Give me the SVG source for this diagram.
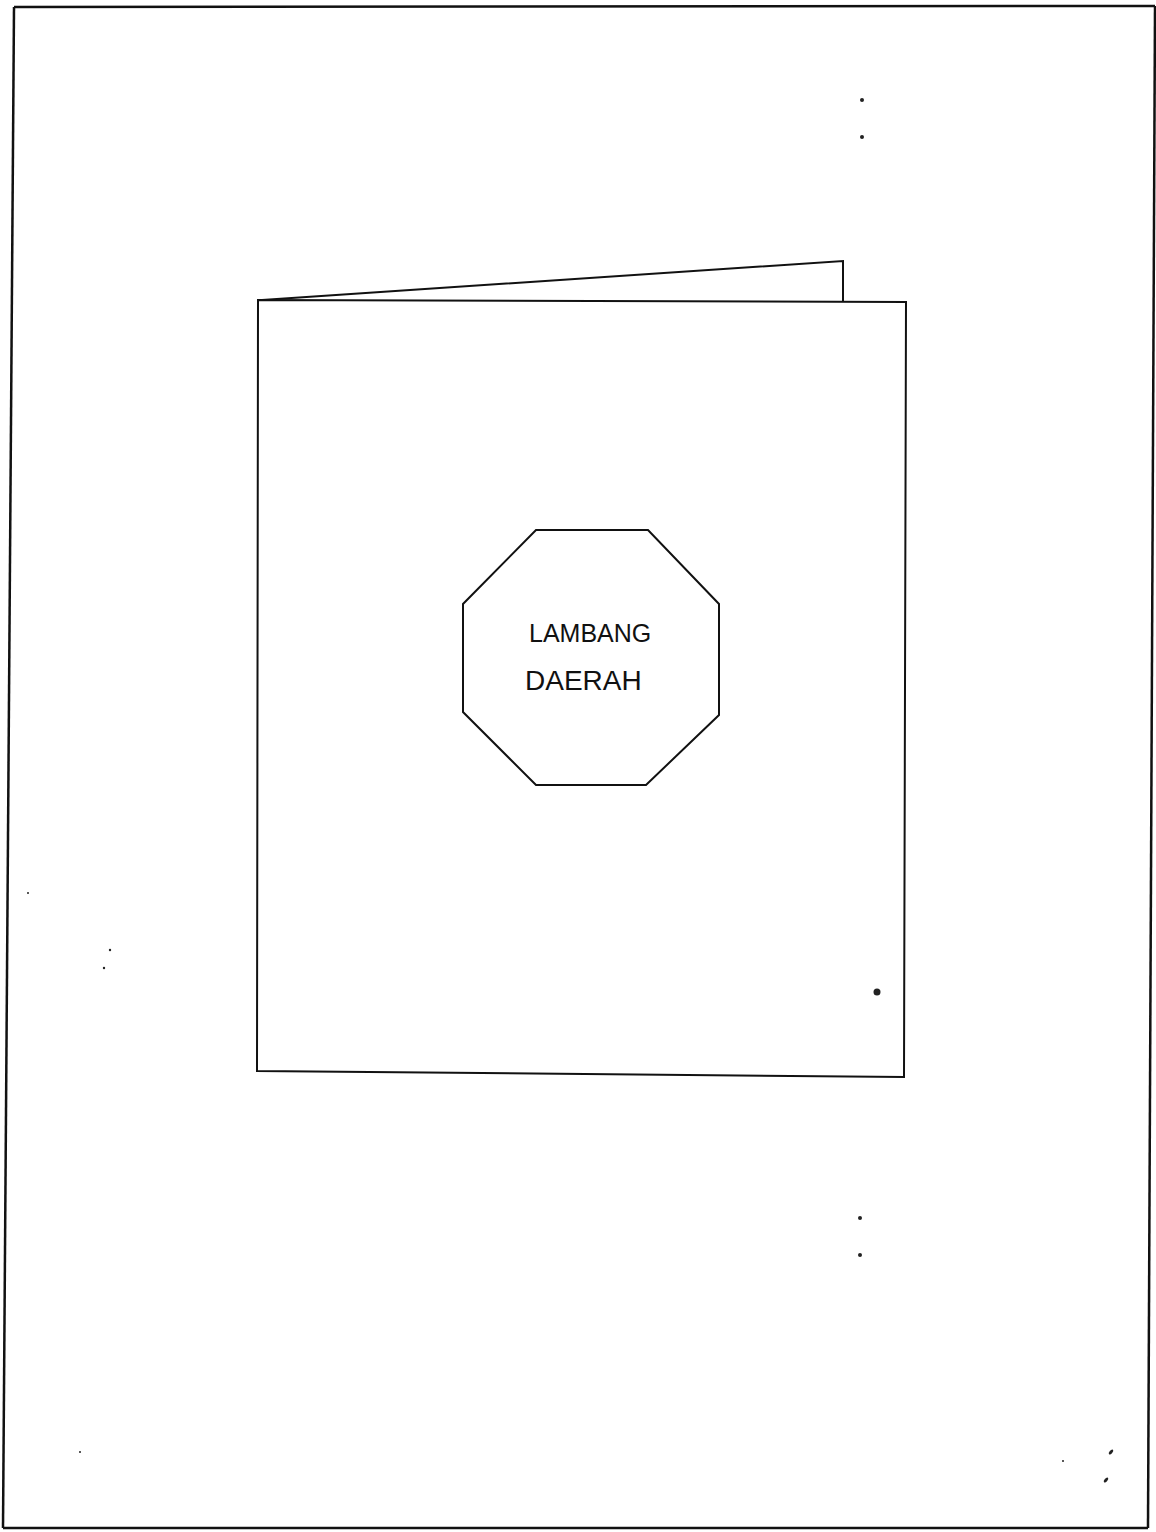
<svg xmlns="http://www.w3.org/2000/svg" width="1156" height="1532" viewBox="0 0 1156 1532">
<style>
.ln{fill:none;stroke:#111;stroke-width:2;stroke-linejoin:miter}
.bd{fill:none;stroke:#111;stroke-width:2.5}
.lbl{font-family:"Liberation Sans",Arial,sans-serif;fill:#111}
.sp{fill:#222}
</style>
<rect width="1156" height="1532" fill="#fff"/>
<g id="page-border">
<polyline class="bd" points="14,7 1155,6"/>
<polyline class="bd" points="14,7 3,1528"/>
<polyline class="bd" points="3,1528 1148,1528"/>
<polyline class="bd" points="1155,6 1148,1528"/>
</g>
<g id="folder-back">
<polyline class="ln" points="262,300 843,261 843,301"/>
</g>
<g id="folder-front">
<polygon class="ln" points="258,300 906,302 904,1077 257,1071"/>
</g>
<g id="emblem">
<polygon class="ln" points="536,530 648,530 719,604 719,715 646,785 536,785 463,712 463,604"/>
<text class="lbl" x="529" y="642" font-size="25">LAMBANG</text>
<text class="lbl" x="525" y="690" font-size="28">DAERAH</text>
</g>
<g id="specks">
<circle class="sp" cx="862" cy="100" r="2"/>
<circle class="sp" cx="862" cy="137" r="2"/>
<circle class="sp" cx="877" cy="992" r="3.5"/>
<circle class="sp" cx="860" cy="1218" r="2"/>
<circle class="sp" cx="860" cy="1255" r="2"/>
<ellipse class="sp" cx="1111" cy="1452" rx="1.5" ry="3" transform="rotate(40 1111 1452)"/>
<ellipse class="sp" cx="1106" cy="1480" rx="1.5" ry="3" transform="rotate(40 1106 1480)"/>
<circle class="sp" cx="1063" cy="1461" r="1"/>
<circle class="sp" cx="110" cy="950" r="1.2"/>
<circle class="sp" cx="104" cy="968" r="1.2"/>
<circle class="sp" cx="28" cy="893" r="1"/>
<circle class="sp" cx="80" cy="1452" r="1"/>
</g>
</svg>
